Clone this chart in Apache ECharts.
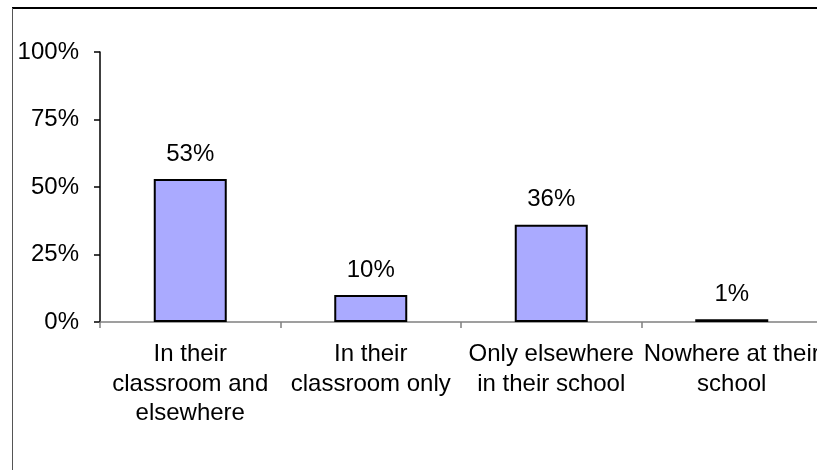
<!DOCTYPE html>
<html>
<head>
<meta charset="utf-8">
<script src="https://cdn.jsdelivr.net/npm/echarts@6/dist/echarts.min.js"></script>
<style>
  html, body { margin: 0; padding: 0; background: #fff; }
  #chart { width: 817px; height: 470px; }
</style>
</head>
<body>
<div id="chart"></div>
<script>
// Where students can use computers
const categories = [
  'In their\nclassroom and\nelsewhere',
  'In their\nclassroom only',
  'Only elsewhere\nin their school',
  'Nowhere at their\nschool'
];
const shares = [53, 10, 36, 1];
const yTicks = [0, 25, 50, 75, 100];

const chart = echarts.init(document.getElementById('chart'));
const FONT = 'Liberation Sans, Arial, sans-serif';

chart.setOption({
  animation: false,
  backgroundColor: '#ffffff',
  graphic: [
    // chart frame: top and left edges
    { type: 'line', shape: { x1: 12, y1: 8, x2: 817, y2: 8 }, style: { stroke: '#000', lineWidth: 2 } },
    { type: 'line', shape: { x1: 12.5, y1: 8, x2: 12.5, y2: 470 }, style: { stroke: '#555', lineWidth: 1 } }
  ],
  // plot area runs a little past the right edge of the canvas
  grid: {
    left: 100, top: 52, width: 722, height: 270,
    containLabel: false, outerBoundsMode: 'none'
  },
  xAxis: {
    type: 'category',
    data: categories,
    axisLine: { show: true, lineStyle: { color: '#808080', width: 1.5 } },
    axisTick: { show: true, alignWithLabel: false, length: 6, lineStyle: { color: '#808080', width: 1.5 } },
    axisLabel: {
      color: '#000', fontFamily: FONT, fontSize: 24, lineHeight: 29.5,
      margin: 18, interval: 0, align: 'center', hideOverlap: false
    },
    splitLine: { show: false }
  },
  yAxis: {
    type: 'value',
    min: yTicks[0],
    max: yTicks[yTicks.length - 1],
    interval: yTicks[1] - yTicks[0],
    axisLine: { show: true, lineStyle: { color: '#000', width: 1.5 } },
    axisTick: { show: true, length: 6, lineStyle: { color: '#000', width: 1.5 } },
    axisLabel: {
      color: '#000', fontFamily: FONT, fontSize: 24, margin: 21,
      formatter: v => v + '%'
    },
    splitLine: { show: false }
  },
  series: [{
    type: 'bar',
    data: shares,
    barWidth: 73,
    itemStyle: { color: '#aaaaff', borderColor: '#000', borderWidth: 2 },
    label: {
      show: true, position: 'top', distance: 13,
      color: '#000', fontFamily: FONT, fontSize: 24,
      formatter: p => p.value + '%'
    }
  }]
});
</script>
</body>
</html>
